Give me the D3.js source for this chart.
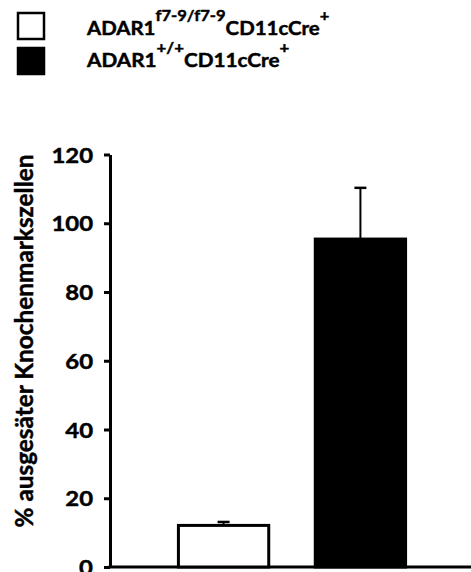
<!DOCTYPE html>
<html>
<head>
<meta charset="utf-8">
<script src="https://cdn.jsdelivr.net/npm/d3@7"></script>
<style>
  body { margin: 0; background: #fff; }
  svg { display: block; }
  text { font-family: Lato, "Open Sans", sans-serif; font-weight: bold; fill: #000; stroke: #000; stroke-width: 0.45px; }
</style>
</head>
<body>
<div id="chart"></div>
<script>
// data
var groups = ["ADAR1 f7-9/f7-9 CD11cCre+", "ADAR1 +/+ CD11cCre+"];
var means = [12.1, 95.4];
var errors = [1.0, 14.9];
var fills = ["#fff", "#000"];
var yTicks = [0, 20, 40, 60, 80, 100, 120];

// legend pieces: [main, superscript, main, superscript]
var legendParts = [
    ["ADAR1", "f7-9/f7-9", "CD11cCre", "+"],
    ["ADAR1", "+/+", "CD11cCre", "+"]
];
var legendWidths = [244, 204];

// squeeze/stretch a text horizontally so it spans the wanted width
function fitWidth(text, x0, want) {
    var got = text.node().getBBox().width;
    var k = want / got;
    text.attr("transform", "translate(" + x0 + ",0) scale(" + k + ",1) translate(" + (-x0) + ",0)");
}

function init() {
    var w = 471;
    var h = 572;

    var svg = d3.select("#chart")
        .append("svg")
        .attr("width", w)
        .attr("height", h);

    // scales
    var x = d3.scaleBand()
        .domain(groups)
        .range([110, 474])
        .paddingInner(0.34)
        .paddingOuter(0.5);

    var y = d3.scaleLinear()
        .domain([0, 120])
        .range([567, 154.5]);

    // y axis
    var yAxis = d3.axisLeft(y)
        .tickValues(yTicks)
        .tickSize(6)
        .tickSizeOuter(0)
        .tickPadding(11);

    var gy = svg.append("g")
        .attr("transform", "translate(110,0)")
        .call(yAxis);
    gy.attr("font-family", null);
    gy.select(".domain").attr("stroke-width", 3);
    gy.selectAll(".tick line").attr("stroke-width", 3);
    gy.selectAll(".tick text")
        .attr("font-size", 21)
        .attr("dy", "0.36em")
        .attr("transform", "translate(-17,0) scale(1.14,1) translate(17,0)");

    // x axis line
    svg.append("line")
        .attr("x1", 108.5)
        .attr("x2", 471)
        .attr("y1", y(0))
        .attr("y2", y(0))
        .attr("stroke", "#000")
        .attr("stroke-width", 3);

    // error bars (up only)
    svg.selectAll(".err")
        .data(groups)
        .enter()
        .append("line")
        .attr("x1", function (d) { return x(d) + x.bandwidth() / 2; })
        .attr("x2", function (d) { return x(d) + x.bandwidth() / 2; })
        .attr("y1", function (d, i) { return y(means[i]); })
        .attr("y2", function (d, i) { return y(means[i] + errors[i]); })
        .attr("stroke", "#000")
        .attr("stroke-width", 2);

    svg.selectAll(".cap")
        .data(groups)
        .enter()
        .append("line")
        .attr("x1", function (d) { return x(d) + x.bandwidth() / 2 - 6; })
        .attr("x2", function (d) { return x(d) + x.bandwidth() / 2 + 6; })
        .attr("y1", function (d, i) { return y(means[i] + errors[i]); })
        .attr("y2", function (d, i) { return y(means[i] + errors[i]); })
        .attr("stroke", "#000")
        .attr("stroke-width", 2.5);

    // bars
    svg.selectAll(".bar")
        .data(groups)
        .enter()
        .append("rect")
        .attr("x", function (d) { return x(d); })
        .attr("y", function (d, i) { return y(means[i]); })
        .attr("width", x.bandwidth())
        .attr("height", function (d, i) { return y(0) - y(means[i]); })
        .attr("fill", function (d, i) { return fills[i]; })
        .attr("stroke", "#000")
        .attr("stroke-width", 3);

    // y axis title
    svg.append("text")
        .attr("transform", "translate(33,341) rotate(-90)")
        .attr("text-anchor", "middle")
        .attr("font-size", 24)
        .attr("textLength", 373)
        .attr("lengthAdjust", "spacingAndGlyphs")
        .text("% ausgesäter Knochenmarkszellen");

    // legend
    var legend = svg.append("g");
    legendParts.forEach(function (parts, i) {
        legend.append("rect")
            .attr("x", 18)
            .attr("y", 13 + i * 35)
            .attr("width", 26)
            .attr("height", 26)
            .attr("fill", fills[i])
            .attr("stroke", "#000")
            .attr("stroke-width", 2.5);

        var t = legend.append("text")
            .attr("x", 87)
            .attr("y", 35 + i * 32)
            .attr("font-size", 18.5);
        parts.forEach(function (p, j) {
            var span = t.append("tspan").text(p);
            if (j % 2 === 1) {
                span.attr("font-size", 15).attr("dy", -14);
            } else if (j > 0) {
                span.attr("dy", 14);
            }
        });
        fitWidth(t, 87, legendWidths[i]);
    });
}

window.onload = init;
</script>
</body>
</html>
